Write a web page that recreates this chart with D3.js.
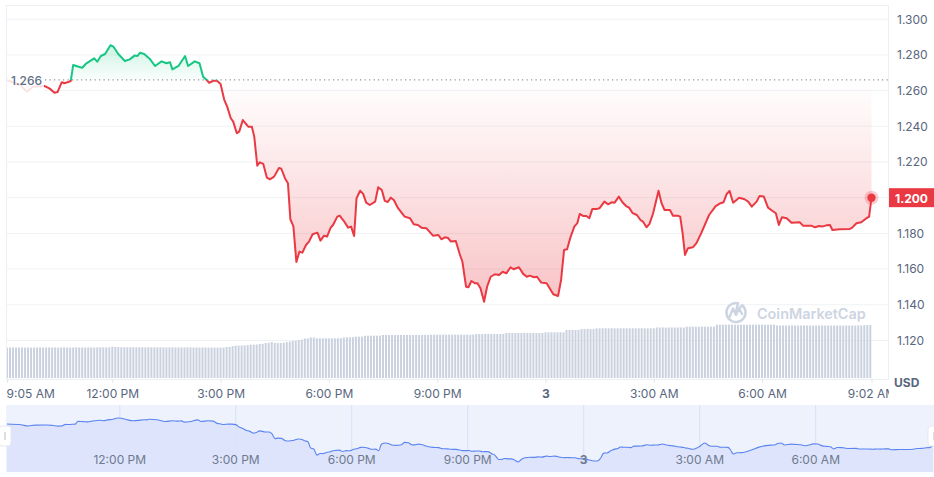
<!DOCTYPE html>
<html><head><meta charset="utf-8">
<script src="https://cdn.jsdelivr.net/npm/d3@7"></script>
<style>
html,body{margin:0;padding:0;background:#fff;}
svg{display:block;font-family:Inter,"Noto Sans",sans-serif;}
</style></head><body>
<svg id="chart" width="934" height="477"></svg>
<script>
// ---------------- DATA ----------------
const openTime = "2024-03-02T09:05:00Z";
const openPrice = 1.266;
const lastPrice = 1.200;
const minutesFromOpen = [0,22,33,43,62,71,79,84,91,95,102,106,110,119,125,132,145,150,156,163,172,177,185,196,204,212,217,221,228,238,246,257,265,271,275,285,296,301,312,320,326,332,336,343,349,355,361,366,372,376,382,386,392,401,407,411,416,420,426,432,437,444,452,456,462,467,471,476,481,486,491,497,502,508,516,521,527,532,538,542,549,553,560,567,572,577,581,587,592,597,603,612,617,623,628,633,638,643,650,661,670,676,683,689,697,708,717,722,728,733,738,746,753,757,763,767,772,778,782,787,793,798,804,811,818,824,830,837,842,851,858,864,869,876,881,888,897,902,908,916,921,926,931,937,943,948,952,958,963,968,973,980,985,993,999,1005,1010,1017,1023,1029,1034,1040,1047,1053,1057,1063,1068,1074,1083,1088,1093,1102,1107,1115,1119,1123,1127,1132,1140,1146,1154,1167,1178,1186,1191,1196,1201,1207,1217,1226,1232,1238,1246,1251,1258,1265,1272,1278,1283,1288,1296,1304,1318,1323,1337,1343,1350,1355,1362,1368,1372,1384,1401,1405,1412,1420,1427,1433,1437];
const prices = [1.2660,1.2631,1.2594,1.2622,1.2626,1.2611,1.2588,1.2592,1.2647,1.2641,1.2648,1.2655,1.2743,1.2734,1.2728,1.2753,1.2781,1.2762,1.2794,1.2805,1.2854,1.2846,1.2805,1.2766,1.2775,1.2796,1.2794,1.2812,1.2805,1.2775,1.2738,1.2764,1.2753,1.2759,1.2719,1.2738,1.2794,1.2738,1.2764,1.2753,1.2678,1.2659,1.2644,1.2655,1.2655,1.2637,1.2550,1.2510,1.2445,1.2426,1.2361,1.2370,1.2435,1.2398,1.2398,1.2342,1.2179,1.2198,1.2189,1.2112,1.2103,1.2118,1.2166,1.2162,1.2109,1.2081,1.1879,1.1841,1.1640,1.1697,1.1692,1.1735,1.1754,1.1795,1.1804,1.1759,1.1787,1.1782,1.1832,1.1847,1.1894,1.1899,1.1869,1.1832,1.1838,1.1785,1.1997,1.2039,1.2021,1.1972,1.1959,1.1978,1.2058,1.2043,1.1982,1.1976,1.2000,1.1987,1.1941,1.1894,1.1885,1.1851,1.1847,1.1832,1.1829,1.1787,1.1791,1.1767,1.1778,1.1774,1.1754,1.1757,1.1679,1.1641,1.1501,1.1498,1.1533,1.1520,1.1520,1.1492,1.1417,1.1501,1.1557,1.1571,1.1567,1.1585,1.1576,1.1610,1.1599,1.1610,1.1573,1.1557,1.1563,1.1554,1.1557,1.1524,1.1520,1.1492,1.1459,1.1449,1.1539,1.1707,1.1711,1.1782,1.1838,1.1857,1.1909,1.1897,1.1897,1.1885,1.1937,1.1937,1.1941,1.1978,1.1963,1.1974,1.1972,1.2006,1.1974,1.1953,1.1944,1.1913,1.1903,1.1875,1.1866,1.1834,1.1853,1.1913,1.2039,1.1969,1.1931,1.1931,1.1899,1.1899,1.1894,1.1801,1.1679,1.1717,1.1722,1.1745,1.1801,1.1903,1.1953,1.1969,1.1974,1.2019,1.2038,1.1972,1.2000,1.1991,1.1978,1.1950,1.1978,1.2010,1.2006,1.1944,1.1927,1.1913,1.1847,1.1890,1.1885,1.1860,1.1862,1.1843,1.1843,1.1834,1.1841,1.1838,1.1845,1.1847,1.1819,1.1823,1.1825,1.1832,1.1857,1.1862,1.1881,1.1894,1.2000];
// volume, one bar every 5 minutes from the open (relative units)
const volumeBarMinutes = 5;
const volumes = [
30.4,30.5,30.5,30.4,30.5,30.6,30.5,30.5,30.4,30.5,30.5,30.6,
30.5,30.5,30.6,30.5,30.5,30.4,30.5,30.6,30.5,30.5,30.5,30.6,
30.6,30.5,30.5,30.6,30.6,30.5,30.6,30.7,30.6,30.6,30.7,31.3,
31.0,30.9,30.8,30.8,30.7,30.7,30.8,30.7,30.7,30.7,30.6,30.7,
30.7,30.6,30.7,30.7,30.6,30.6,30.6,30.7,30.6,30.6,30.6,30.6,
30.6,30.6,30.5,30.6,30.5,30.5,30.6,30.5,30.5,30.5,30.4,30.4,
30.5,31.0,31.0,32.0,32.4,32.5,32.5,32.6,32.8,33.3,33.3,33.5,
34.0,34.2,35.0,35.2,36.0,35.0,35.0,35.1,35.2,36.0,36.3,37.0,
37.2,38.0,38.3,39.5,39.6,40.5,40.4,39.7,39.7,39.7,39.8,39.7,
39.7,39.7,39.8,39.8,40.6,40.7,40.7,40.8,41.3,41.3,41.4,42.3,
42.3,42.3,42.4,42.3,42.4,43.0,43.0,43.0,43.1,43.0,43.0,43.0,
43.0,43.1,43.0,43.0,43.1,43.0,43.0,43.1,43.0,43.3,43.3,43.3,
43.3,43.4,43.3,43.3,43.3,43.4,43.3,43.3,43.3,43.4,43.3,43.4,
44.0,44.0,44.0,44.1,44.0,44.0,44.1,44.0,44.0,44.1,45.0,45.0,
45.0,45.1,45.0,45.0,45.1,45.0,45.0,45.1,45.0,45.0,45.1,45.7,
45.7,45.7,45.8,45.7,45.8,45.7,48.0,48.0,48.1,48.0,48.1,49.0,
49.0,49.1,49.0,49.0,49.7,49.7,49.8,49.7,49.7,49.8,49.7,49.7,
49.7,49.8,49.7,49.7,49.8,49.7,49.7,49.8,49.7,49.7,49.8,49.7,
50.5,50.5,50.6,50.5,50.5,50.6,50.5,50.5,50.6,50.5,51.3,51.3,
51.4,51.3,51.3,51.4,51.3,51.3,51.4,51.3,53.3,53.3,53.4,53.3,
53.3,53.4,53.3,53.3,53.4,53.3,53.3,53.3,53.4,53.3,53.3,53.4,
53.3,53.3,53.4,53.3,52.5,52.5,52.6,52.5,52.5,52.6,52.5,52.5,
52.5,52.6,52.5,52.5,52.4,52.5,52.5,52.6,52.5,52.5,52.4,52.5,
52.5,52.5,52.4,52.5,52.5,52.5,52.4,52.6,52.6,52.8,52.8,53.0];
const yTickValues = [1.12,1.14,1.16,1.18,1.20,1.22,1.24,1.26,1.28,1.30];
const xTickTimes = ["2024-03-02T12:00:00Z","2024-03-02T15:00:00Z","2024-03-02T18:00:00Z","2024-03-02T21:00:00Z","2024-03-03T00:00:00Z","2024-03-03T03:00:00Z","2024-03-03T06:00:00Z"];
const xTickLabels = ["12:00 PM","3:00 PM","6:00 PM","9:00 PM","3","3:00 AM","6:00 AM"];
const xEdgeLabels = ["9:05 AM","9:02 AM"];
const closeTime = "2024-03-03T09:02:00Z";
const currencyLabel = "USD";
const watermark = "CoinMarketCap";

// ---------------- CHART ----------------
const GREEN = "#16c784", RED = "#ea3943", TXT = "#58667e";
const t0 = new Date(openTime);
const toDate = m => new Date(t0.getTime() + m * 60000);
const data = minutesFromOpen.map((m, i) => ({t: toDate(m), v: prices[i]}));
const vols = volumes.map((v, i) => ({t: toDate(i * volumeBarMinutes), v}));
const tickDates = xTickTimes.map(s => new Date(s));

const svg = d3.select("#chart");
const defs = svg.append("defs");
const P = {l: 7, r: 888, t: 6, b: 379};

const x = d3.scaleUtc().domain([t0, new Date(closeTime)]).range([7, 871.5]);
const y = d3.scaleLinear().domain([1.0984, 1.3074]).range([P.b, P.t]);
const yv = d3.scaleLinear().domain([0, 60]).range([378, 318]);
const yBase = y(openPrice);

// gridlines
svg.append("g").selectAll("line").data(yTickValues).join("line")
  .attr("x1", P.l).attr("x2", P.r).attr("y1", d => y(d)).attr("y2", d => y(d))
  .attr("stroke", "#eff2f5").attr("stroke-width", 1);
// frame
svg.append("rect").attr("x", P.l - 0.5).attr("y", P.t - 0.5).attr("width", P.r - P.l + 1).attr("height", P.b - P.t + 1)
  .attr("fill", "none").attr("stroke", "#eceff3");

// clip paths
defs.append("clipPath").attr("id", "plot").append("rect").attr("x", P.l).attr("y", P.t).attr("width", P.r - P.l).attr("height", P.b - P.t);
defs.append("clipPath").attr("id", "above").append("rect").attr("x", P.l).attr("y", 0).attr("width", P.r - P.l).attr("height", yBase);
defs.append("clipPath").attr("id", "below").append("rect").attr("x", P.l).attr("y", yBase).attr("width", P.r - P.l).attr("height", P.b - yBase);

// gradients
const gG = defs.append("linearGradient").attr("id", "gGreen").attr("gradientUnits", "userSpaceOnUse")
  .attr("x1", 0).attr("x2", 0).attr("y1", y(1.286)).attr("y2", yBase);
gG.append("stop").attr("offset", 0).attr("stop-color", GREEN).attr("stop-opacity", 0.22);
gG.append("stop").attr("offset", 1).attr("stop-color", GREEN).attr("stop-opacity", 0.02);
const gR = defs.append("linearGradient").attr("id", "gRed").attr("gradientUnits", "userSpaceOnUse")
  .attr("x1", 0).attr("x2", 0).attr("y1", yBase).attr("y2", y(1.142));
gR.append("stop").attr("offset", 0).attr("stop-color", RED).attr("stop-opacity", 0.0);
gR.append("stop").attr("offset", 1).attr("stop-color", RED).attr("stop-opacity", 0.3);

// volume bars
svg.append("g").attr("clip-path", "url(#plot)").selectAll("rect").data(vols).join("rect")
  .attr("x", d => x(d.t) - 1).attr("width", 2)
  .attr("y", d => yv(d.v)).attr("height", d => 378 - yv(d.v))
  .attr("fill", "#cbd2df");

// watermark
const wm = svg.append("g").attr("fill", "none").attr("stroke", "#cdd4e2");
wm.append("path").attr("d", d3.arc()({innerRadius: 0, outerRadius: 9.5, startAngle: 0.7, endAngle: 2 * Math.PI + 0.2}))
  .attr("transform", "translate(736,312.5)").attr("stroke-width", 2.6).attr("fill", "none");
wm.append("path").attr("d", "M729.5,317 L733,308.5 L736,315 L739,308.5 L742,314").attr("stroke-width", 2.4)
  .attr("stroke-linejoin", "round").attr("stroke-linecap", "round");
svg.append("text").attr("x", 757).attr("y", 313).attr("dominant-baseline", "central")
  .attr("font-size", 14.4).attr("font-weight", 600).attr("fill", "#cdd4e2").text(watermark);

// areas and lines
const area = d3.area().x(d => x(d.t)).y0(yBase).y1(d => y(d.v));
const line = d3.line().x(d => x(d.t)).y(d => y(d.v));
const plotG = svg.append("g").attr("clip-path", "url(#plot)");
plotG.append("g").attr("clip-path", "url(#above)").append("path").datum(data).attr("d", area).attr("fill", "url(#gGreen)");
plotG.append("g").attr("clip-path", "url(#below)").append("path").datum(data).attr("d", area).attr("fill", "url(#gRed)");

// baseline dotted
svg.append("line").attr("x1", 45).attr("x2", P.r).attr("y1", yBase).attr("y2", yBase)
  .attr("stroke", "#8a919c").attr("stroke-width", 1.2).attr("stroke-dasharray", "1.2,3.3");

plotG.append("g").attr("clip-path", "url(#above)").append("path").datum(data).attr("d", line)
  .attr("fill", "none").attr("stroke", GREEN).attr("stroke-width", 2).attr("stroke-linejoin", "round");
plotG.append("g").attr("clip-path", "url(#below)").append("path").datum(data).attr("d", line)
  .attr("fill", "none").attr("stroke", RED).attr("stroke-width", 2).attr("stroke-linejoin", "round");

// open price label
svg.append("rect").attr("x", 7).attr("y", 68).attr("width", 37).attr("height", 28).attr("fill", "#fff").attr("opacity", 0.85);
svg.append("text").attr("x", 11).attr("y", yBase + 0.5).attr("dominant-baseline", "central")
  .attr("font-size", 12).attr("font-weight", 500).attr("fill", "#616e85").text(openPrice.toFixed(3));

// end dot
const last = data[data.length - 1];
svg.append("circle").attr("cx", x(last.t)).attr("cy", y(last.v)).attr("r", 7).attr("fill", RED).attr("opacity", 0.25);
svg.append("circle").attr("cx", x(last.t)).attr("cy", y(last.v)).attr("r", 4.2).attr("fill", RED);

// right axis (the tick at the last price is covered by the price tag)
const yAxis = d3.axisRight(y).tickValues(yTickValues.filter(v => Math.abs(v - lastPrice) > 1e-9))
  .tickFormat(d3.format(".3f")).tickSize(0).tickPadding(9);
const ya = svg.append("g").attr("transform", `translate(${P.r},0)`).call(yAxis);
ya.select(".domain").remove();
ya.selectAll("text").attr("font-size", 12).attr("fill", TXT).attr("font-family", "Inter, sans-serif");

// price tag
svg.append("rect").attr("x", 889).attr("y", y(lastPrice) - 9.5).attr("width", 46).attr("height", 19).attr("fill", RED);
svg.append("text").attr("x", 911.5).attr("y", y(lastPrice) + 0.5).attr("text-anchor", "middle").attr("dominant-baseline", "central")
  .attr("font-size", 12).attr("font-weight", 700).attr("fill", "#fff").text(lastPrice.toFixed(3));

svg.append("text").attr("x", 894).attr("y", 382).attr("dominant-baseline", "central")
  .attr("font-size", 12).attr("font-weight", 700).attr("fill", TXT).text(currencyLabel);

// bottom axis
const xAxis = d3.axisBottom(x).tickValues([t0, ...tickDates, new Date(closeTime)]).tickSize(4).tickPadding(6)
  .tickFormat((d, i) => i === 0 ? xEdgeLabels[0] : (i === tickDates.length + 1 ? xEdgeLabels[1] : xTickLabels[i - 1]));
defs.append("clipPath").attr("id", "xaxisclip").append("rect").attr("x", 0).attr("y", 370).attr("width", P.r + 1).attr("height", 40);
const xaOuter = svg.append("g").attr("clip-path", "url(#xaxisclip)");
const xa = xaOuter.append("g").attr("transform", `translate(0,${P.b})`).call(xAxis);
xa.select(".domain").remove();
xa.selectAll("line").attr("stroke", "#e3e7ec");
xa.selectAll("text").attr("font-size", 12).attr("fill", TXT).attr("font-family", "Inter, sans-serif")
  .attr("font-weight", (d, i) => xTickLabels[i - 1] === "3" ? 700 : 400);
xa.selectAll(".tick").filter((d, i) => i === 0).select("text").attr("text-anchor", "start").attr("x", -1);

// ---------------- NAVIGATOR ----------------
const N = {l: 6, r: 934, t: 405, b: 472};
const xn = d3.scaleUtc().domain([t0, new Date(closeTime)]).range([7, 933]);
const yn = d3.scaleLinear().domain(d3.extent(prices)).range([462, 418]);
svg.append("rect").attr("x", N.l).attr("y", N.t).attr("width", N.r - N.l).attr("height", N.b - N.t).attr("fill", "#eef2fd");
svg.append("g").selectAll("line").data(tickDates).join("line")
  .attr("x1", d => xn(d)).attr("x2", d => xn(d)).attr("y1", N.t).attr("y2", N.b)
  .attr("stroke", "#d9e1f7").attr("stroke-width", 1);
svg.append("path").datum(data).attr("d", d3.area().x(d => xn(d.t)).y0(N.b).y1(d => yn(d.v)).curve(d3.curveMonotoneX))
  .attr("fill", "#dbe3fb").attr("opacity", 0.95);
svg.append("path").datum(data).attr("d", d3.line().x(d => xn(d.t)).y(d => yn(d.v)).curve(d3.curveMonotoneX))
  .attr("fill", "none").attr("stroke", "#5b84f0").attr("stroke-width", 1.1);
svg.append("g").selectAll("text").data(tickDates).join("text")
  .attr("x", d => xn(d)).attr("y", 459).attr("text-anchor", "middle").attr("dominant-baseline", "central")
  .attr("font-size", 12).attr("fill", "#6f7a8f")
  .attr("font-weight", (d, i) => xTickLabels[i] === "3" ? 700 : 400)
  .text((d, i) => xTickLabels[i]);
// handles
[[-1, 426], [928, 426]].forEach(([hx, hy]) => {
  svg.append("rect").attr("x", hx).attr("y", hy).attr("width", 12).attr("height", 20).attr("rx", 3)
    .attr("fill", "#fff").attr("stroke", "#e4e8f1");
  svg.append("line").attr("x1", hx + 6).attr("x2", hx + 6).attr("y1", hy + 6).attr("y2", hy + 14)
    .attr("stroke", "#b7bfcc").attr("stroke-width", 1);
});
</script></body></html>
